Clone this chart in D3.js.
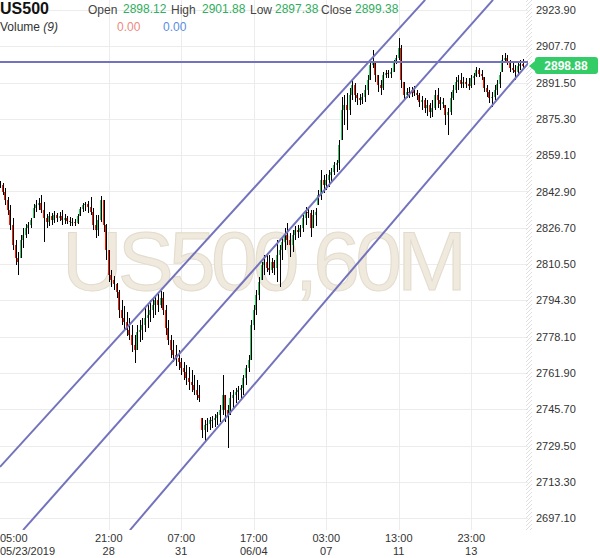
<!DOCTYPE html>
<html>
<head>
<meta charset="utf-8">
<script src="https://cdn.jsdelivr.net/npm/d3@7"></script>
<style>
  body { margin: 0; background: #fff; }
  svg { display: block; font-family: Arial, "Liberation Sans", sans-serif; }
</style>
</head>
<body>
<svg id="chart" width="600" height="558"></svg>
<script>
// 2h bars, US500, 05/23 - 06/14 2019
var highs = [
  2847.6, 2846.7, 2844.5, 2840.4, 2836.9, 2831.1, 2821.2, 2815.9, 2823.5, 2826.6,
  2828.4, 2829.3, 2831.1, 2837.3, 2839.1, 2840.0, 2841.3, 2838.2, 2832.9, 2833.7,
  2833.3, 2834.2, 2833.3, 2833.7, 2834.6, 2832.9, 2832.0, 2831.5, 2831.1, 2830.6,
  2832.9, 2836.0, 2837.8, 2838.2, 2838.7, 2840.4, 2835.5, 2832.4, 2832.4, 2840.9,
  2839.1, 2828.4, 2816.8, 2807.9, 2805.2, 2802.1, 2798.9, 2794.5, 2791.8, 2789.1,
  2786.4, 2783.3, 2778.8, 2783.3, 2785.5, 2786.4, 2790.9, 2792.2, 2794.5, 2795.4,
  2796.3, 2797.1, 2798.5, 2798.0, 2792.2, 2785.5, 2778.8, 2776.6, 2774.4, 2772.2,
  2768.6, 2766.8, 2765.5, 2764.6, 2763.2, 2761.0, 2758.8, 2756.5, 2741.8, 2740.9,
  2741.8, 2742.3, 2742.7, 2743.6, 2744.5, 2747.6, 2761.0, 2752.1, 2747.6, 2753.4,
  2754.3, 2755.2, 2756.1, 2756.5, 2761.0, 2765.5, 2769.9, 2785.5, 2792.2, 2798.9,
  2804.7, 2811.4, 2814.6, 2815.4, 2814.6, 2813.2, 2812.3, 2821.2, 2819.0, 2822.6,
  2826.6, 2828.8, 2824.4, 2825.7, 2827.5, 2827.9, 2827.9, 2832.4, 2836.0, 2835.5,
  2834.6, 2834.6, 2835.5, 2843.6, 2852.5, 2850.3, 2850.7, 2852.5, 2853.4, 2856.1,
  2857.0, 2865.9, 2885.1, 2886.0, 2886.9, 2889.1, 2892.7, 2891.3, 2886.9, 2886.4,
  2886.9, 2890.4, 2894.9, 2900.7, 2906.0, 2900.7, 2894.9, 2892.7, 2896.2, 2897.1,
  2897.1, 2898.0, 2901.6, 2903.8, 2911.4, 2908.3, 2891.8, 2889.1, 2889.5, 2889.5,
  2890.0, 2888.2, 2886.9, 2885.5, 2884.6, 2883.7, 2882.4, 2883.7, 2888.2, 2889.1,
  2885.1, 2884.6, 2881.5, 2880.2, 2887.3, 2890.4, 2894.0, 2894.9, 2895.8, 2894.0,
  2893.5, 2893.5, 2894.9, 2895.8, 2898.5, 2898.0, 2897.1, 2894.0, 2890.4, 2888.2,
  2887.3, 2890.4, 2892.7, 2896.2, 2903.8, 2904.7, 2903.8, 2901.6, 2900.2, 2899.4,
  2900.7, 2901.6, 2901.9
];
var lows = [
  2844.5, 2841.3, 2836.9, 2832.4, 2825.7, 2816.8, 2810.1, 2805.6, 2813.2, 2817.7,
  2822.1, 2823.9, 2826.6, 2831.1, 2833.7, 2834.6, 2833.3, 2820.4, 2826.6, 2827.5,
  2827.9, 2828.8, 2829.3, 2829.7, 2827.9, 2828.4, 2828.4, 2827.5, 2827.5, 2827.5,
  2828.4, 2832.0, 2833.7, 2834.2, 2833.3, 2832.4, 2825.7, 2822.1, 2823.0, 2829.3,
  2824.8, 2812.3, 2802.5, 2800.3, 2798.9, 2795.4, 2786.4, 2783.3, 2781.1, 2778.4,
  2776.6, 2771.3, 2766.4, 2772.2, 2775.7, 2776.6, 2780.2, 2782.0, 2784.7, 2786.4,
  2787.8, 2789.1, 2790.9, 2787.8, 2778.8, 2774.4, 2768.6, 2766.8, 2765.0, 2763.2,
  2761.0, 2758.8, 2756.5, 2754.3, 2753.4, 2752.1, 2749.8, 2749.0, 2732.9, 2731.1,
  2735.6, 2736.4, 2737.3, 2737.8, 2738.7, 2740.0, 2743.1, 2740.0, 2728.4, 2743.1,
  2745.4, 2748.5, 2749.8, 2749.8, 2752.1, 2756.5, 2762.3, 2767.7, 2781.1, 2787.8,
  2794.5, 2803.4, 2805.6, 2807.0, 2805.6, 2806.5, 2805.6, 2802.5, 2800.3, 2812.3,
  2816.8, 2819.0, 2813.7, 2815.9, 2821.2, 2822.1, 2822.6, 2824.8, 2827.9, 2831.1,
  2822.6, 2826.6, 2827.5, 2836.9, 2839.1, 2842.2, 2843.6, 2844.9, 2847.1, 2850.3,
  2851.6, 2852.5, 2865.9, 2872.6, 2870.3, 2877.0, 2883.7, 2882.8, 2881.5, 2881.5,
  2881.9, 2882.8, 2886.0, 2892.7, 2898.0, 2891.8, 2887.3, 2886.0, 2888.2, 2893.5,
  2893.5, 2893.5, 2896.2, 2899.8, 2901.6, 2889.1, 2883.7, 2884.6, 2884.6, 2885.1,
  2885.5, 2883.7, 2880.6, 2879.3, 2877.9, 2876.6, 2875.7, 2876.1, 2879.3, 2880.2,
  2879.3, 2880.2, 2872.6, 2868.1, 2877.0, 2883.7, 2886.9, 2888.2, 2889.1, 2889.1,
  2889.1, 2888.2, 2889.1, 2890.4, 2894.0, 2894.0, 2892.7, 2887.3, 2885.1, 2882.4,
  2880.6, 2883.7, 2886.0, 2889.1, 2896.2, 2900.7, 2899.4, 2896.2, 2895.8, 2892.7,
  2894.4, 2897.1, 2897.4
];
var closes = [
  2845.8, 2842.7, 2839.1, 2834.6, 2827.9, 2819.0, 2813.2, 2811.4, 2821.2, 2823.5,
  2826.6, 2827.9, 2830.2, 2835.5, 2836.9, 2837.8, 2834.6, 2831.1, 2829.3, 2832.0,
  2830.2, 2832.4, 2831.1, 2832.0, 2830.2, 2831.1, 2829.7, 2829.3, 2829.3, 2828.8,
  2832.0, 2835.1, 2836.9, 2837.3, 2836.0, 2833.7, 2827.9, 2825.7, 2830.2, 2839.1,
  2827.9, 2816.8, 2805.6, 2803.4, 2801.6, 2798.0, 2790.0, 2786.4, 2784.7, 2781.1,
  2778.8, 2774.4, 2772.2, 2780.2, 2781.1, 2783.3, 2786.4, 2787.8, 2790.0, 2792.2,
  2794.5, 2792.2, 2795.4, 2790.0, 2782.0, 2776.6, 2772.2, 2769.9, 2768.6, 2766.8,
  2764.1, 2762.3, 2759.7, 2757.9, 2756.5, 2754.3, 2752.1, 2750.7, 2736.4, 2738.7,
  2739.1, 2740.9, 2740.9, 2741.8, 2743.1, 2745.4, 2752.1, 2745.4, 2743.1, 2750.7,
  2752.1, 2753.4, 2754.3, 2755.2, 2759.7, 2764.1, 2767.7, 2783.3, 2790.0, 2796.7,
  2802.5, 2810.1, 2811.4, 2808.8, 2807.9, 2811.4, 2808.8, 2814.6, 2816.8, 2820.4,
  2823.5, 2821.2, 2819.0, 2823.5, 2825.7, 2824.8, 2826.6, 2831.1, 2833.7, 2833.3,
  2826.6, 2832.4, 2833.7, 2841.3, 2848.0, 2845.8, 2848.0, 2850.3, 2851.6, 2854.7,
  2855.6, 2863.6, 2879.3, 2881.5, 2879.3, 2886.0, 2890.4, 2886.0, 2884.6, 2883.7,
  2885.1, 2888.2, 2892.7, 2899.4, 2900.7, 2894.9, 2890.4, 2889.1, 2894.9, 2895.8,
  2895.3, 2896.2, 2900.7, 2902.5, 2906.9, 2892.7, 2886.0, 2887.3, 2886.9, 2888.2,
  2886.9, 2886.0, 2882.8, 2883.7, 2880.2, 2881.5, 2878.4, 2880.2, 2886.0, 2883.7,
  2881.9, 2882.8, 2877.0, 2878.4, 2884.6, 2888.2, 2891.8, 2892.7, 2890.9, 2891.8,
  2890.9, 2890.0, 2893.5, 2894.4, 2897.1, 2895.3, 2894.4, 2889.1, 2887.3, 2884.6,
  2885.1, 2888.2, 2890.9, 2894.9, 2901.6, 2902.5, 2900.7, 2898.0, 2897.1, 2896.2,
  2898.9, 2899.8, 2898.88
];
var firstOpen = 2846.7;

var priceTicks = [2923.90, 2907.70, 2891.50, 2875.30, 2859.10, 2842.90, 2826.70,
  2810.50, 2794.30, 2778.10, 2761.90, 2745.70, 2729.50, 2713.30, 2697.10];
var tickBars = [5, 42, 70, 98, 126, 154, 182];
var tickTimes = ['05:00', '21:00', '07:00', '17:00', '03:00', '13:00', '23:00'];
var tickDates = ['05/23/2019', '28', '31', '06/04', '07', '11', '13'];

// drawn channel: [bar, price] anchors
var channelLines = [
  [[0, 2720.0], [164.2, 2928.4]],
  [[8.9, 2691.8], [190.4, 2928.4]],
  [[50.2, 2691.8], [204.7, 2901.1]]
];
var levelPrice = 2900.7;
var lastPrice = 2898.88;

var headerLabels = ['Open', 'High', 'Low', 'Close'];
var headerValues = ['2898.12', '2901.88', '2897.38', '2899.38'];

var W = 528, H = 530;
var svg = d3.select('#chart');

var x = d3.scaleLinear().domain([0, 204]).range([0, 528.2]);
var y = d3.scaleLinear().domain([2697.1, 2923.9]).range([518.2, 10]);

var bars = closes.map(function(c, i) {
  var o = i === 0 ? firstOpen : closes[i - 1];
  o = Math.max(lows[i], Math.min(highs[i], o));
  return {i: i, o: o, h: highs[i], l: lows[i], c: c};
});

svg.append('defs').append('clipPath').attr('id', 'plot')
  .append('rect').attr('width', W).attr('height', H);

var hatch = svg.select('defs').append('pattern')
  .attr('id', 'hatch').attr('patternUnits', 'userSpaceOnUse')
  .attr('width', 4).attr('height', 4);
hatch.append('path').attr('d', 'M0,4 L4,0').attr('stroke', '#d6d6d6').attr('stroke-width', 0.8);

// grid
var grid = svg.append('g').attr('stroke', '#ececec').attr('stroke-width', 1).attr('shape-rendering', 'crispEdges');
grid.selectAll('.hg').data(priceTicks).enter().append('line')
  .attr('x1', 0).attr('x2', W)
  .attr('y1', function(d) { return Math.round(y(d)) + 0.5; })
  .attr('y2', function(d) { return Math.round(y(d)) + 0.5; });
grid.selectAll('.vg').data(tickBars.slice(1)).enter().append('line')
  .attr('y1', 0).attr('y2', H)
  .attr('x1', function(d) { return Math.round(x(d)) + 0.5; })
  .attr('x2', function(d) { return Math.round(x(d)) + 0.5; });

svg.append('rect').attr('x', 526).attr('y', 0).attr('width', 6).attr('height', H)
  .attr('fill', 'url(#hatch)');

// watermark
svg.append('text')
  .attr('x', 62).attr('y', 290)
  .attr('textLength', 405).attr('lengthAdjust', 'spacing')
  .attr('font-size', 84)
  .attr('fill', '#efe9de').attr('stroke', '#e3dccd').attr('stroke-width', 1)
  .text('US500,60M');

var plot = svg.append('g').attr('clip-path', 'url(#plot)');

// candles
var candle = plot.selectAll('.bar').data(bars).enter().append('g')
  .attr('class', 'bar').attr('shape-rendering', 'crispEdges');

candle.append('rect')
  .attr('x', function(d) { return Math.round(x(d.i)) - 1; })
  .attr('width', 2)
  .attr('y', function(d) { return y(Math.max(d.o, d.c)); })
  .attr('height', function(d) { return Math.max(1, Math.abs(y(d.o) - y(d.c))); })
  .attr('fill', function(d) { return d.c >= d.o ? '#2ecc5e' : '#ff1a00'; });

candle.append('rect')
  .attr('x', function(d) { return Math.round(x(d.i)); })
  .attr('width', 1)
  .attr('y', function(d) { return y(d.h); })
  .attr('height', function(d) { return Math.max(1, y(d.l) - y(d.h)); })
  .attr('fill', '#000');

// channel + level line
var line = d3.line().x(function(d) { return x(d[0]); }).y(function(d) { return y(d[1]); });
plot.selectAll('.chan').data(channelLines).enter().append('path')
  .attr('d', line)
  .attr('fill', 'none').attr('stroke', '#7373bd').attr('stroke-width', 2);

plot.append('path')
  .attr('d', line([[0, levelPrice], [204, levelPrice]]))
  .attr('fill', 'none').attr('stroke', '#7373bd').attr('stroke-width', 2);

// price axis
var yAxis = svg.append('g').attr('transform', 'translate(536,0)')
  .call(d3.axisRight(y).tickValues(priceTicks).tickSize(0).tickPadding(0)
    .tickFormat(d3.format('.2f')));
yAxis.select('.domain').remove();
yAxis.selectAll('text').attr('font-size', 11).attr('fill', '#333')
  .attr('font-family', 'Arial, "Liberation Sans", sans-serif');

// time axis: two separate rows
var xl = svg.append('g').attr('font-size', 11).attr('fill', '#333');
tickBars.forEach(function(b, k) {
  var first = k === 0;
  var px = first ? 0 : x(b);
  xl.append('text').attr('text-anchor', first ? 'start' : 'middle')
    .attr('x', px).attr('y', 541.5).text(tickTimes[k]);
  xl.append('text').attr('text-anchor', first ? 'start' : 'middle')
    .attr('x', px).attr('y', 554.5).text(tickDates[k]);
});

// last price tag
var ty = y(lastPrice);
svg.append('path')
  .attr('d', 'M529,' + ty + ' L535,' + (ty - 5) + ' L535,' + (ty - 6) + ' Q535,' + (ty - 9) + ' 538,' + (ty - 9) +
    ' L595,' + (ty - 9) + ' Q598,' + (ty - 9) + ' 598,' + (ty - 6) + ' L598,' + (ty + 5) +
    ' Q598,' + (ty + 8) + ' 595,' + (ty + 8) + ' L538,' + (ty + 8) + ' Q535,' + (ty + 8) + ' 535,' + (ty + 5) +
    ' L535,' + (ty + 5) + ' Z')
  .attr('fill', '#33cc66');
svg.append('text')
  .attr('x', 566).attr('y', ty + 4)
  .attr('text-anchor', 'middle').attr('font-size', 12).attr('font-weight', 'bold')
  .attr('fill', '#fff').text(d3.format('.2f')(lastPrice));

// header
svg.append('text').attr('x', 0).attr('y', 14).attr('font-size', 16).attr('font-weight', 'bold')
  .attr('fill', '#111').text('US500');
var labelX = [88, 171, 250, 321];
var valueX = [123, 202, 275, 355];
headerLabels.forEach(function(l, k) {
  svg.append('text').attr('x', labelX[k]).attr('y', 14).attr('font-size', 12)
    .attr('fill', '#444').text(l);
  svg.append('text').attr('x', valueX[k]).attr('y', 13).attr('font-size', 12)
    .attr('fill', '#2fae5e').text(headerValues[k]);
});
var vol = svg.append('text').attr('x', 0).attr('y', 31).attr('font-size', 12).attr('fill', '#333');
vol.append('tspan').text('Volume ');
vol.append('tspan').attr('font-style', 'italic').text('(9)');
svg.append('text').attr('x', 117).attr('y', 31).attr('font-size', 12).attr('fill', '#ec8a80').text('0.00');
svg.append('text').attr('x', 163).attr('y', 31).attr('font-size', 12).attr('fill', '#5a8de6').text('0.00');
</script>
</body>
</html>
